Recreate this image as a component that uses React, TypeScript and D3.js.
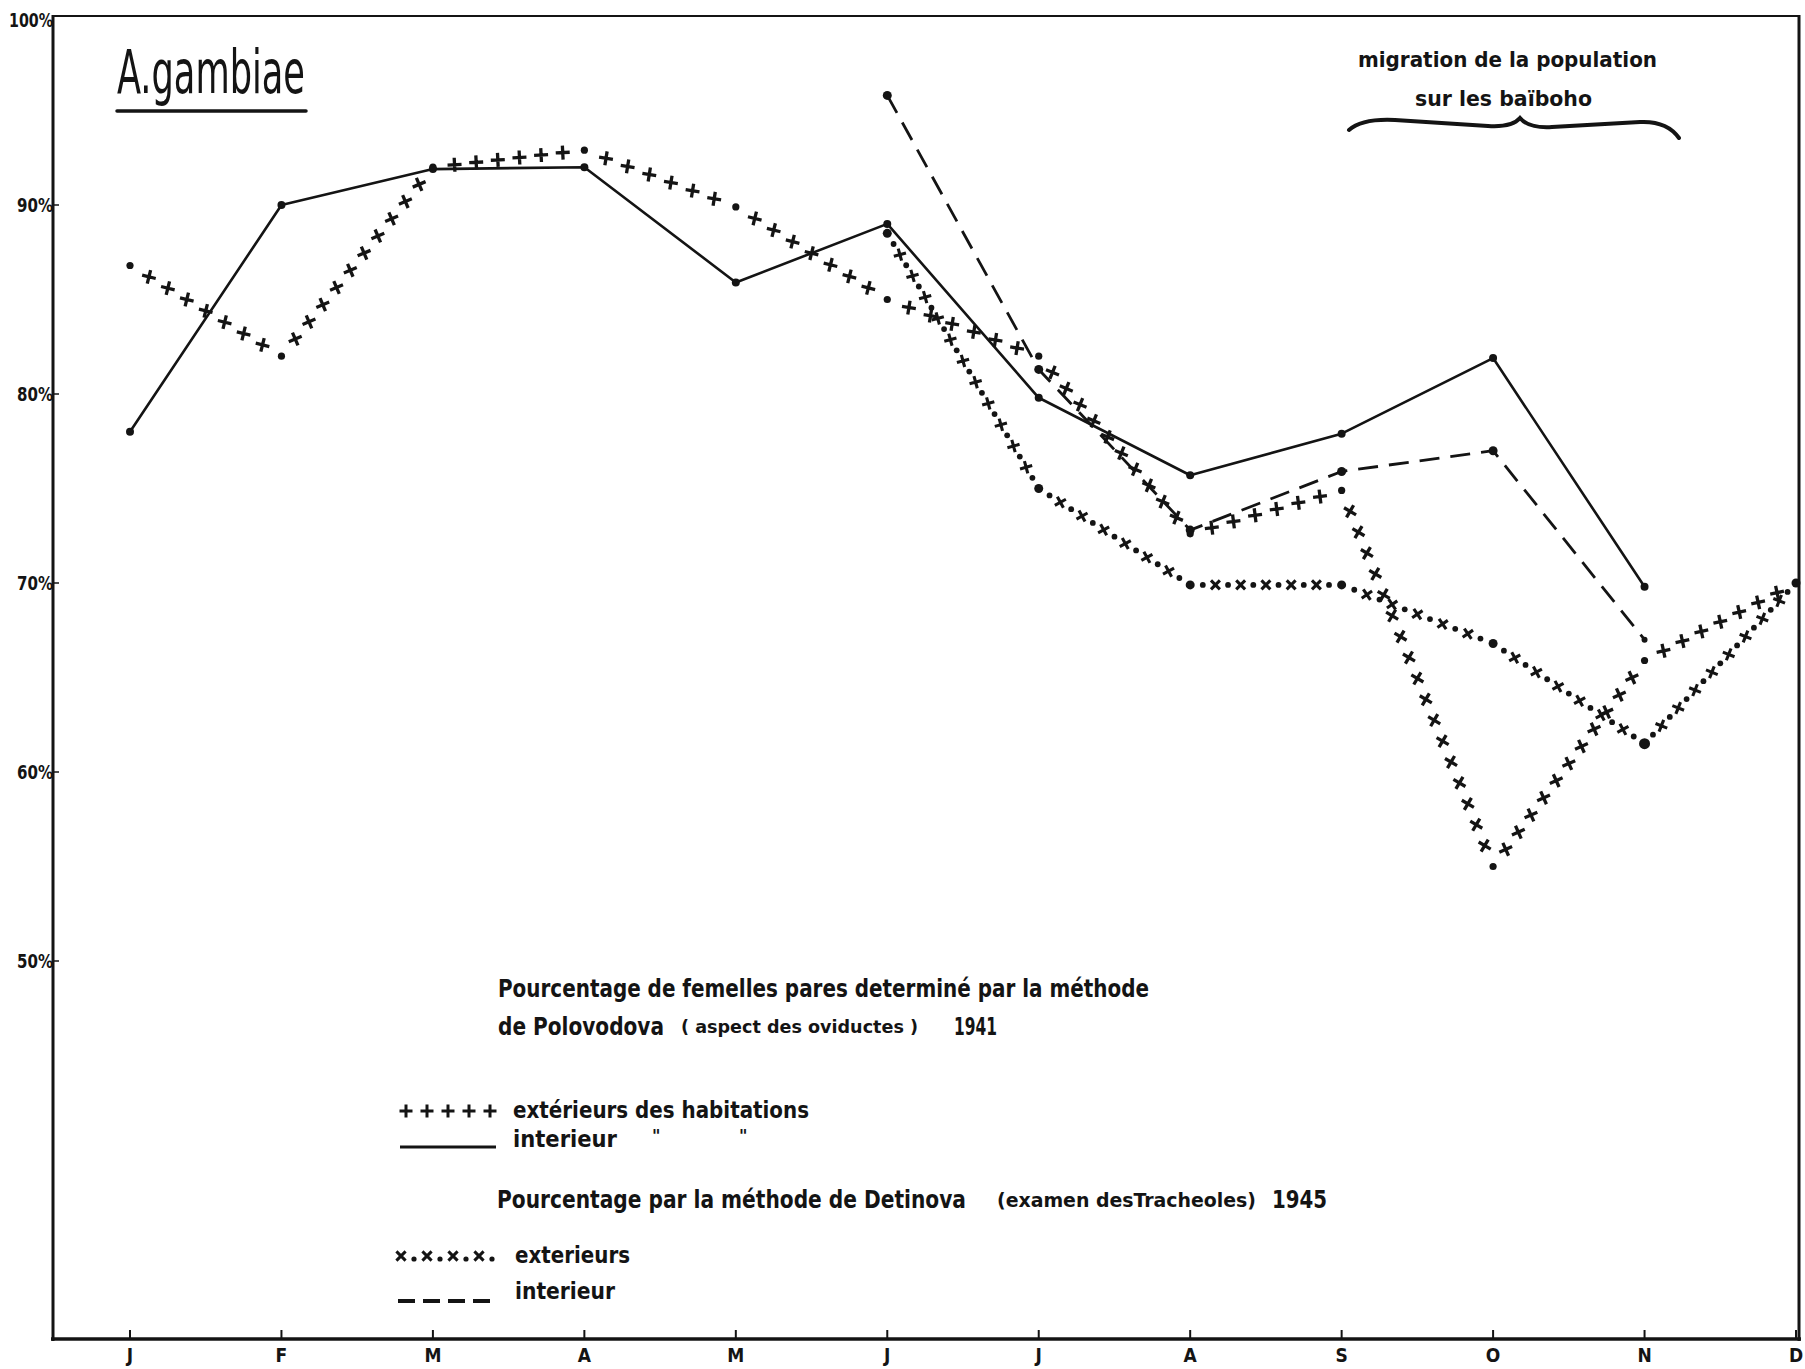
import * as d3 from 'd3';

const months = ['J', 'F', 'M', 'A', 'M', 'J', 'J', 'A', 'S', 'O', 'N', 'D'];
const yTicks = [100, 90, 80, 70, 60, 50];

// méthode de Polovodova 1941 (Jan -> Dec)
const ext1941 = [86.8, 82, 92, 92.9, 89.9, 85, 82, 72.6, 74.9, 55, 65.9, 70];
const int1941 = [78, 90, 91.9, 92, 85.9, 89, 79.8, 75.7, 77.9, 81.9, 69.8];
// méthode de Detinova 1945 (starts in June)
const start1945 = 5;
const ext1945 = [88.5, 75, 69.9, 69.9, 66.8, 61.5, 70];
const int1945 = [95.8, 81.3, 72.8, 75.9, 77, 67];

const W = 1805;
const H = 1369;
const INK = '#141414';
const FONT = "'DejaVu Sans Condensed', 'Liberation Sans Narrow', 'DejaVu Sans', sans-serif";

const x = d3.scaleLinear().domain([0, 11]).range([130, 1796]);
const y = d3.scaleLinear().domain([30, 100]).range([1339, 16]);
const frameLeft = 53;
const frameRight = 1799;

type Pt = [number, number];

const toPts = (vals: number[], offset = 0): Pt[] =>
  vals.map((v, i) => [x(i + offset), y(v)] as Pt);

const line = d3.line<Pt>();

// spread markers evenly over each segment of a polyline
function along(pts: Pt[], spacing: number, half = false) {
  const out: { x: number; y: number; a: number }[] = [];
  for (let k = 0; k < pts.length - 1; k++) {
    const [x0, y0] = pts[k];
    const [x1, y1] = pts[k + 1];
    const len = Math.hypot(x1 - x0, y1 - y0);
    const n = Math.max(1, Math.round(len / spacing));
    const a = (Math.atan2(y1 - y0, x1 - x0) * 180) / Math.PI;
    for (let i = 0; i < n; i++) {
      if (!half && i === 0) continue;
      const t = half ? (i + 0.5) / n : i / n;
      out.push({ x: x0 + (x1 - x0) * t, y: y0 + (y1 - y0) * t, a });
    }
  }
  return out;
}

const cross = (s: number) => `M${-s},0L${s},0M0,${-s}L0,${s}`;

function Txt(props: { x: number; y: number; len?: number; size: number; children: string; weight?: string | number; anchor?: string }) {
  const { x: tx, y: ty, len, size, children, weight = 'bold', anchor = 'start' } = props;
  return (
    <text
      x={tx}
      y={ty}
      fontSize={size}
      fontWeight={weight}
      fontFamily={FONT}
      fill={INK}
      textAnchor={anchor}
      {...(len ? { textLength: len, lengthAdjust: 'spacingAndGlyphs' } : {})}
    >
      {children}
    </text>
  );
}

export default function App() {
  const pInt41 = toPts(int1941);
  const pExt41 = toPts(ext1941);
  const pInt45 = toPts(int1945, start1945);
  const pExt45 = toPts(ext1945, start1945);

  const plusMarks = along(pExt41, 22);
  const xMarks = along(pExt45, 25);
  const xDots = along(pExt45, 25, true);

  return (
    <svg
      width={W}
      height={H}
      viewBox={`0 0 ${W} ${H}`}
      style={{ position: 'absolute', left: 0, top: 0, background: '#fff' }}
    >
      <rect width={W} height={H} fill="#fff" />

      {/* frame */}
      <g stroke={INK} fill="none">
        <line x1={frameLeft} x2={frameRight} y1={y(100)} y2={y(100)} strokeWidth={2.2} />
        <line x1={frameLeft} x2={frameLeft} y1={y(100) - 1} y2={y(30) + 2} strokeWidth={3} />
        <line x1={frameRight} x2={frameRight} y1={y(100) - 1} y2={y(30) + 2} strokeWidth={3} />
        <line x1={frameLeft - 2} x2={frameRight + 2} y1={y(30)} y2={y(30)} strokeWidth={3.5} />
      </g>

      {/* y axis */}
      {yTicks.map((t) => (
        <g key={t}>
          <line x1={frameLeft} x2={frameLeft + 6} y1={y(t)} y2={y(t)} stroke={INK} strokeWidth={1.5} />
          <Txt x={frameLeft} y={y(t) + 7 + (t === 100 ? 4 : 0)} size={19} anchor="end" len={t === 100 ? 44 : 36}>
            {`${t}%`}
          </Txt>
        </g>
      ))}

      {/* x axis */}
      {months.map((m, i) => (
        <g key={i}>
          <line x1={x(i)} x2={x(i)} y1={y(30)} y2={y(30) - 9} stroke={INK} strokeWidth={2} />
          <Txt x={x(i)} y={1362} size={19} anchor="middle">
            {m}
          </Txt>
        </g>
      ))}

      {/* title */}
      <Txt x={117} y={93} size={60} weight="normal" len={188}>
        A.gambiae
      </Txt>
      <line x1={117} x2={306} y1={111} y2={111} stroke={INK} strokeWidth={3.5} strokeLinecap="round" />

      {/* migration note */}
      <Txt x={1358} y={67} size={22} len={299}>
        migration de la population
      </Txt>
      <Txt x={1415} y={106} size={22} len={177}>
        sur les baïboho
      </Txt>
      <path
        d="M1349,130 C1358,122 1375,119 1395,120 L1488,126 C1504,127 1515,124 1520,118 C1525,124 1536,128 1552,127 L1640,122 C1660,121 1672,128 1679,138"
        fill="none"
        stroke={INK}
        strokeWidth={4}
        strokeLinecap="round"
      />

      {/* intérieur 1941 : solid */}
      <path d={line(pInt41) ?? ''} fill="none" stroke={INK} strokeWidth={2.6} strokeLinejoin="round" />
      {pInt41.map((p, i) => (
        <circle key={`si${i}`} cx={p[0]} cy={p[1]} r={4} fill={INK} />
      ))}

      {/* intérieur 1945 : dashed */}
      <path
        d={line(pInt45) ?? ''}
        fill="none"
        stroke={INK}
        strokeWidth={2.8}
        strokeDasharray="20 11"
        strokeLinejoin="round"
      />
      {pInt45.map((p, i) => (
        <circle key={`di${i}`} cx={p[0]} cy={p[1]} r={i === pInt45.length - 1 ? 3 : 4.5} fill={INK} />
      ))}

      {/* extérieurs 1941 : +++++ */}
      {plusMarks.map((m, i) => (
        <path
          key={`pm${i}`}
          d={cross(7)}
          transform={`translate(${m.x},${m.y}) rotate(${m.a * 0.45})`}
          stroke={INK}
          strokeWidth={3.3}
          fill="none"
        />
      ))}
      {pExt41.map((p, i) => (
        <circle key={`pd${i}`} cx={p[0]} cy={p[1]} r={3.6} fill={INK} />
      ))}

      {/* extérieurs 1945 : x.x.x.x */}
      {xMarks.map((m, i) => (
        <path
          key={`xm${i}`}
          d={cross(6.3)}
          transform={`translate(${m.x},${m.y}) rotate(${45 + m.a * 0.5})`}
          stroke={INK}
          strokeWidth={3.1}
          fill="none"
        />
      ))}
      {xDots.map((m, i) => (
        <circle key={`xd${i}`} cx={m.x} cy={m.y} r={2.9} fill={INK} />
      ))}
      {pExt45.map((p, i) => (
        <circle key={`xv${i}`} cx={p[0]} cy={p[1]} r={i === 5 ? 5.5 : 4.5} fill={INK} />
      ))}

      {/* legend */}
      <Txt x={498} y={997} size={25} len={651}>
        Pourcentage de femelles pares determiné par la méthode
      </Txt>
      <Txt x={498} y={1035} size={25} len={166}>
        de Polovodova
      </Txt>
      <Txt x={681} y={1033} size={18} len={237}>
        ( aspect des oviductes )
      </Txt>
      <Txt x={954} y={1035} size={25} len={43}>
        1941
      </Txt>

      {[0, 1, 2, 3, 4].map((i) => (
        <path
          key={`lp${i}`}
          d={cross(6.5)}
          transform={`translate(${406 + i * 21},${1111})`}
          stroke={INK}
          strokeWidth={3}
        />
      ))}
      <Txt x={513} y={1118} size={23} len={296}>
        extérieurs des habitations
      </Txt>
      <line x1={400} x2={496} y1={1147} y2={1147} stroke={INK} strokeWidth={3.2} />
      <Txt x={513} y={1147} size={23} len={104}>
        interieur
      </Txt>
      <Txt x={652} y={1142} size={18}>
        "
      </Txt>
      <Txt x={739} y={1142} size={18}>
        "
      </Txt>

      <Txt x={497} y={1208} size={25} len={469}>
        Pourcentage par la méthode de Detinova
      </Txt>
      <Txt x={997} y={1207} size={19} len={259}>
        (examen desTracheoles)
      </Txt>
      <Txt x={1272} y={1208} size={25} len={55}>
        1945
      </Txt>

      {[0, 1, 2, 3].map((i) => (
        <g key={`lx${i}`}>
          <path
            d={cross(6.5)}
            transform={`translate(${401 + i * 26},${1256}) rotate(45)`}
            stroke={INK}
            strokeWidth={3}
          />
          <circle cx={414 + i * 26} cy={1259} r={2.6} fill={INK} />
        </g>
      ))}
      <Txt x={515} y={1263} size={23} len={115}>
        exterieurs
      </Txt>
      <line
        x1={398}
        x2={494}
        y1={1301}
        y2={1301}
        stroke={INK}
        strokeWidth={4}
        strokeDasharray="17 8"
      />
      <Txt x={515} y={1299} size={23} len={100}>
        interieur
      </Txt>
    </svg>
  );
}
